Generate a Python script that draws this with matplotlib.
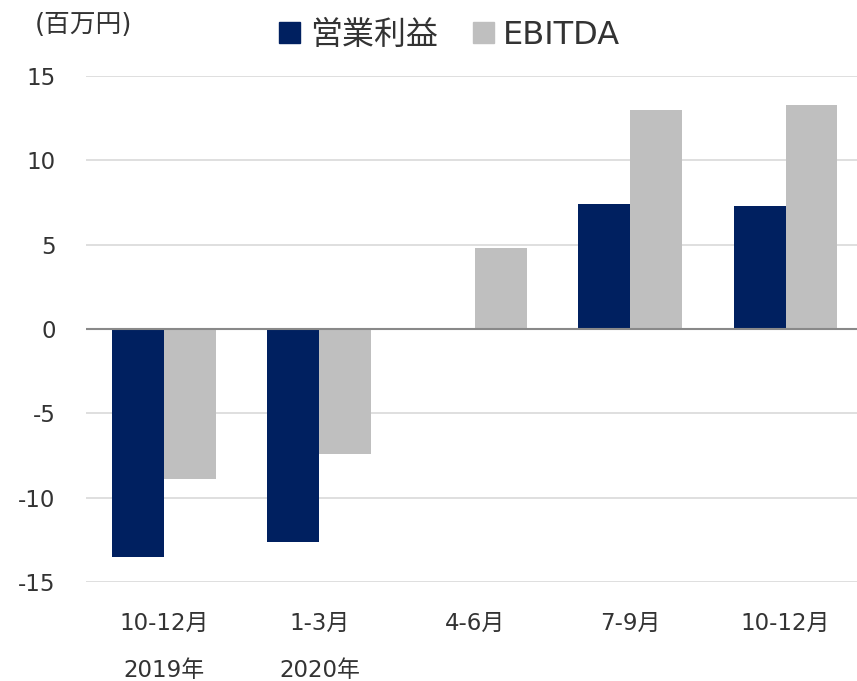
import matplotlib
matplotlib.use("Agg")
import matplotlib.pyplot as plt
import matplotlib.transforms as mtransforms
from matplotlib.patches import Patch
import numpy as np

plt.rcParams['font.family'] = ['DejaVu Sans', 'Noto Sans CJK JP']
plt.rcParams['axes.unicode_minus'] = False

quarters = ['10-12月', '1-3月', '4-6月', '7-9月', '10-12月']
years = ['2019年', '2020年', '', '', '']
operating_profit = [-13.5, -12.6, 0.0, 7.44, 7.28]
ebitda = [-8.9, -7.4, 4.8, 13.0, 13.27]

navy = '#002060'
gray = '#bfbfbf'
text_color = '#333333'

fig = plt.figure(figsize=(8.57, 6.81), dpi=100)
# the plot area runs a little past the right edge of the image
ax = fig.add_axes([0.1006, 0.1454, 0.9067, 0.743])

x = np.arange(len(quarters))
w = 0.334
ax.bar(x - w / 2, operating_profit, w, color=navy, zorder=3)
ax.bar(x + w / 2, ebitda, w, color=gray, zorder=3)

ax.set_xlim(-0.5, len(quarters) - 0.5)
ax.set_ylim(-15, 15)
ax.set_yticks(range(-15, 16, 5))
ax.grid(axis='y', color='#d9d9d9', linewidth=1.2, zorder=0)
ax.axhline(0, color='#898989', linewidth=1.5, zorder=4)
for s in ax.spines.values():
    s.set_visible(False)
ax.tick_params(axis='y', length=0, pad=22, labelsize=16.5, labelcolor=text_color)
ax.set_xticks([])

trans = mtransforms.blended_transform_factory(ax.transData, ax.transAxes)
for i, (q, yr) in enumerate(zip(quarters, years)):
    ax.text(i, -0.081, q, transform=trans, ha='center', va='center',
            fontsize=16.5, color=text_color)
    if yr:
        ax.text(i, -0.174, yr, transform=trans, ha='center', va='center',
                fontsize=16.5, color=text_color)

fig.text(0.041, 0.963, '(百万円)', ha='left', va='center', fontsize=18.5, color=text_color)

handles = [Patch(color=navy), Patch(color=gray)]
fig.legend(handles, ['営業利益', 'EBITDA'], loc='center', bbox_to_anchor=(0.525, 0.948),
           ncol=2, frameon=False, fontsize=23, handlelength=0.65, handleheight=0.65,
           handletextpad=0.3, columnspacing=1.1, labelcolor=text_color)

fig.savefig('out.png', dpi=100)
